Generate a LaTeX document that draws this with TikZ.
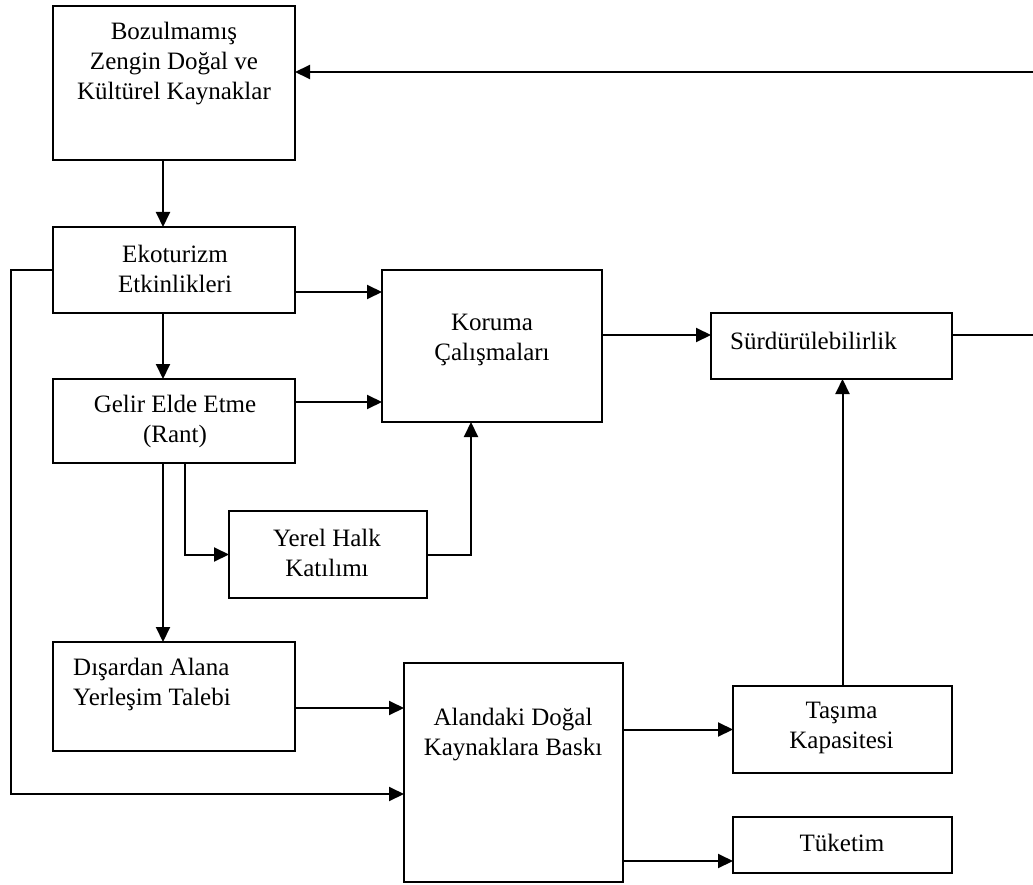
\documentclass[tikz,border=0pt]{standalone}
\usepackage{fontspec}
\setmainfont{Liberation Serif}
\usetikzlibrary{arrows.meta}
\begin{document}
\begin{tikzpicture}[x=1pt,y=-1pt,
  box/.style={draw, line width=2pt, inner sep=0pt, outer sep=0pt},
  txt/.style={font=\fontsize{25}{30}\selectfont, align=center, inner sep=0pt},
  ltxt/.style={font=\fontsize{25}{30}\selectfont, align=left, inner sep=0pt, anchor=west},
  arr/.style={line width=2pt, -{Triangle[length=15pt,width=14pt]}},
  ln/.style={line width=2pt}]
\useasboundingbox (0,0) rectangle (1033,885);
% boxes
\node[box, minimum width=242pt, minimum height=154pt] (boz) at (174,83) {};
\node[box, minimum width=242pt, minimum height=86pt] (eko) at (174,270) {};
\node[box, minimum width=242pt, minimum height=84pt] (gel) at (174,421) {};
\node[box, minimum width=220pt, minimum height=152pt] (kor) at (492,346) {};
\node[box, minimum width=241pt, minimum height=66pt] (sur) at (831.5,346) {};
\node[box, minimum width=198pt, minimum height=87pt] (yer) at (328,554.5) {};
\node[box, minimum width=242pt, minimum height=109pt] (dis) at (174,696.5) {};
\node[box, minimum width=219pt, minimum height=219pt] (ala) at (513.5,772.5) {};
\node[box, minimum width=219pt, minimum height=87pt] (tas) at (842.5,729.5) {};
\node[box, minimum width=219pt, minimum height=56pt] (tuk) at (842.5,845) {};
% texts
\node[txt] (tboz) at (174,64) {Bozulmamış\\Zengin Doğal ve\\Kültürel Kaynaklar};
\node[txt] (teko) at (175,269) {Ekoturizm\\Etkinlikleri};
\node[txt] (tgel) at (175,421) {Gelir Elde Etme\\(Rant)};
\node[txt] (tkor) at (492,340) {Koruma\\Çalışmaları};
\node[ltxt] (tsur) at (730,341) {Sürdürülebilirlik};
\node[txt] (tyer) at (327,553) {Yerel Halk\\Katılımı};
\node[ltxt] (tdis) at (73,684) {Dışardan Alana\\Yerleşim Talebi};
\node[txt] (tala) at (513,735) {Alandaki Doğal\\Kaynaklara Baskı};
\node[txt] (ttas) at (841.5,728) {Taşıma\\Kapasitesi};
\node[txt] (ttuk) at (842,843) {Tüketim};
% free ends
\coordinate (topR) at (1033,72);
\coordinate (midR) at (1033,335);
\coordinate (lp) at (11,500);
% connectors
\draw[arr] (topR) -- (topR -| boz.east);
\draw[ln] (sur.east |- midR) -- (midR);
\draw[arr] ([xshift=-11pt]boz.south) -- ([xshift=-11pt]eko.north);
\draw[arr] ([xshift=-11pt]eko.south) -- ([xshift=-11pt]gel.north);
\draw[arr] ([yshift=-22pt]eko.east) -- ([yshift=-22pt]eko.east -| kor.west);
\draw[arr] ([yshift=19pt]gel.east) -- ([yshift=19pt]gel.east -| kor.west);
\draw[arr] ([xshift=-11pt]gel.south) -- ([xshift=-11pt]dis.north);
\draw[arr] ([xshift=11pt]gel.south) |- (yer.west);
\draw[arr] (yer.east) -| ([xshift=-21pt]kor.south);
\draw[arr] ([yshift=11pt]kor.east) -- ([yshift=11pt]kor.east -| sur.west);
\draw[arr] (eko.west) -| (lp) |- ([yshift=-21.5pt]ala.west);
\draw[arr] ([yshift=-11.5pt]dis.east) -- ([yshift=-11.5pt]dis.east -| ala.west);
\draw[arr] (tas.west -| ala.east) -- (tas.west);
\draw[arr] ([yshift=-16pt]tuk.west -| ala.east) -- ([yshift=-16pt]tuk.west);
\draw[arr] (tas.north) -- (tas.north |- sur.south);
\end{tikzpicture}
\end{document}
